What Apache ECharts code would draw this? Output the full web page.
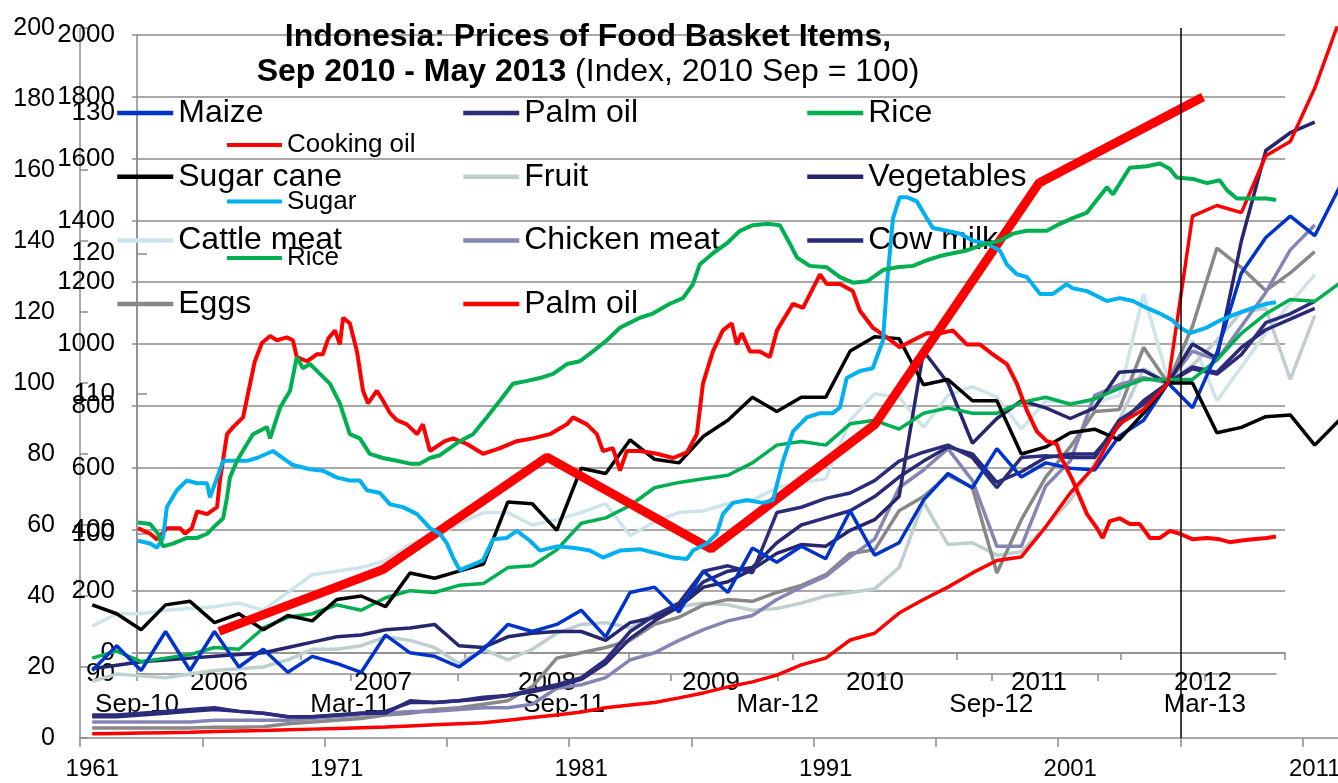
<!DOCTYPE html>
<html style="height: 100%">
<head>
    <meta charset="utf-8">
</head>
<body style="height: 100%; margin: 0; background: #fff">
    <div id="container" style="width: 1338px; height: 783px"></div>
    <script src="https://cdn.jsdelivr.net/npm/echarts@6/dist/echarts.min.js"></script>
    <script type="text/javascript">
        // production index layer, 1961-2012 (left axis 0-200)
        var years = [1961, 1962, 1963, 1964, 1965, 1966, 1967, 1968, 1969, 1970,
            1971, 1972, 1973, 1974, 1975, 1976, 1977, 1978, 1979, 1980,
            1981, 1982, 1983, 1984, 1985, 1986, 1987, 1988, 1989, 1990,
            1991, 1992, 1993, 1994, 1995, 1996, 1997, 1998, 1999, 2000,
            2001, 2002, 2003, 2004, 2005, 2006, 2007, 2008, 2009, 2010,
            2011, 2012];

        var maize = [19, 26, 19, 30, 19, 30, 20, 25, 18.5, 23,
            21, 18.5, 29, 24, 23, 20, 25, 32, 30, 32,
            36, 28.5, 41, 42.5, 35.5, 47, 41, 53.5, 49.5, 54,
            50.5, 64, 51.5, 55, 67, 74.5, 70.5, 81.5, 73.5, 77.5,
            76, 75.5, 85, 89.5, 100, 93, 108.5, 131, 141, 147,
            141.5, 155];
        var palmOilNavy = [6.5, 6.5, 7, 7.5, 8, 8.5, 7.5, 7, 6, 6,
            6.5, 7, 7, 10.5, 10, 10.5, 11.5, 12, 13.5, 15,
            17, 22, 30, 34.5, 38, 47, 48.5, 46.5, 63.5, 65,
            67.5, 69, 72.5, 78, 80.5, 82.5, 79, 70.5, 79, 79.5,
            79, 79, 89.5, 94, 100, 104, 102.5, 108, 117, 119.5,
            123, null];
        var rice = [22.5, 24.5, 21.5, 22.5, 23.5, 25.5, 25, 31, 34, 35,
            37.5, 36, 39.5, 41.5, 41, 43, 43.5, 48, 48.5, 53,
            60.5, 62, 65.5, 70.5, 72, 73, 74, 77.5, 82.5, 83.5,
            82.5, 88.5, 89.5, 87, 91.5, 93, 91.5, 91.5, 94.5, 96,
            94, 95.5, 98.5, 101, 101, 101, 106.5, 114, 119.5, 123.5,
            123, 128];
        var sugarCane = [37.5, 35, 30.5, 37.5, 38.5, 32.5, 35, 30.5, 34.5, 33,
            39, 40, 37, 46.5, 45, 47, 49, 66.5, 66, 58.5,
            76, 74.5, 84, 78.5, 77.5, 85, 89.5, 96, 92, 96,
            96, 109, 113, 112.5, 99.5, 101, 95, 95, 80, 82,
            86, 87, 84, 91.5, 100, 100, 86, 87.5, 90.5, 91,
            82.5, 89.5];
        var fruit = [16, 18, 17.5, 17, 18, 19, 19.5, 20, 22, 25,
            25, 26, 28.5, 27.5, 25.5, 21, 25, 22, 25, 29.5,
            32, 32.5, 31, 35, 37, 38, 37.5, 36, 36.5, 38,
            40, 41, 42, 48, 66.5, 54.5, 55, 51.5, 52.5, 59.5,
            67, 77.5, 89.5, 104, 100, 105, 112, 120, 121, 101,
            119, null];
        var vegetables = [19.5, 20.5, 21.5, 22, 22.5, 23, 23.5, 24, 25.5, 27,
            28.5, 29, 30.5, 31, 32, 26, 25.5, 28.5, 29.5, 30,
            30, 27.5, 32.5, 34, 37, 42.5, 44, 47.5, 52, 54.5,
            54, 58.5, 61.5, 68, 109, 100, 83, 90, 95, 93,
            90, 93, 103, 103.5, 100, 111, 107, 140, 165.5, 170.5,
            173.5, null];
        var cattleMeat = [31.5, 35, 35, 36, 36.5, 37, 38, 36, 41, 46,
            47, 48, 50, 54.5, 56.5, 60.5, 63.5, 63.5, 60, 61.5,
            63.5, 66, 57, 61, 63.5, 64, 66, 67, 70.5, 72,
            73, 89.5, 97, 96, 87.5, 96.5, 99, 96, 87, 95,
            94.5, 94.5, 96.5, 125, 101, 112, 95, 104.5, 114, 122.5,
            130.5, null];
        var chickenMeat = [4.5, 4.5, 4.5, 4.5, 4.5, 5, 5, 5, 5, 5.5,
            6, 6.5, 7, 7.5, 7.5, 8, 8.5, 8.5, 9.5, 14,
            15, 17, 22, 24, 27.5, 30.5, 33, 34.5, 39, 42.5,
            45.5, 51, 56, 70.5, 75.5, 81.5, 72.5, 54, 54, 71,
            78, 96.5, 99.5, 101.5, 100, 109, 106.5, 116, 125.5, 137.5,
            144.5, null];
        var cowMilk = [6, 6, 6.5, 7, 7.5, 8, 7.5, 7, 6, 6,
            6.5, 7, 7.5, 10, 10, 10.5, 11, 12, 13, 14.5,
            16.5, 21, 28, 33, 37, 44, 47, 48, 55, 60,
            62, 64, 68, 73.5, 78, 82, 80, 72, 75, 79,
            80, 80, 88, 95, 100, 104.5, 103, 110, 115, 118,
            121, null];
        var eggs = [2.8, 2.8, 2.8, 2.8, 2.8, 3, 3, 3.2, 4, 4.5,
            5, 5.5, 6.5, 7, 8, 8.5, 9.5, 10.5, 14.5, 22.5,
            24, 25.5, 27.5, 32, 34, 37.5, 39, 38.5, 41, 43,
            46, 52, 53, 64, 68, 74, 70.5, 46.5, 61.5, 73.5,
            82, 92, 92.5, 110, 100, 116, 138, 132.5, 126, 131,
            137, null];
        var palmOilRed = [1.2, 1.3, 1.4, 1.5, 1.6, 1.8, 2, 2.1, 2.3, 2.5,
            2.7, 2.9, 3.1, 3.4, 3.7, 4, 4.3, 5, 5.8, 6.5,
            7.3, 8.5, 9.3, 10, 11.3, 12.7, 14.4, 15.8, 17.7, 20.6,
            22.5, 27.6, 29.5, 35.2, 39, 42.5, 46.5, 50, 51, 59.5,
            69, 76.5, 88.5, 92.5, 100, 147, 150, 148, 164, 168,
            183, 202];

        // yearly layer 2006-2012 (axis 0-2000)
        var yearsB = ['2006', '2007', '2008', '2009', '2010', '2011', '2012'];
        var thickRed = [70, 270, 634, 337, 740, 1521, 1799];

        // price index Sep 2010 - May 2013, [months since Sep 2010, index]
        var monthLabels = {0: 'Sep-10', 6: 'Mar-11', 12: 'Sep-11', 18: 'Mar-12', 24: 'Sep-12', 30: 'Mar-13'};
        var cookingOil = [[0.03,100.4],[0.37,100],[0.56,99.6],[0.84,100.4],[1.21,100.4],[1.35,100],[1.54,100.4],[1.69,101.6],[1.97,101.4],[2.25,101.9],[2.33,103.8],[2.53,107.1],[2.7,107.6],[2.98,108.3],[3.12,110],[3.31,112.3],[3.51,113.6],[3.74,114.1],[3.93,113.8],[4.21,114],[4.38,113.8],[4.49,112.6],[4.78,112.3],[5.06,112.8],[5.22,112.8],[5.37,113.9],[5.56,114.5],[5.7,113.5],[5.79,115.4],[5.98,115],[6.18,113],[6.35,110.2],[6.49,109.3],[6.74,110.2],[6.91,109.5],[7.11,108.6],[7.3,108.1],[7.58,107.8],[7.87,107.1],[8.03,107.8],[8.23,105.9],[8.65,106.6],[8.88,106.8],[9.07,106.6],[9.27,106.4],[9.72,105.7],[10.2,106.1],[10.67,106.6],[11.12,106.8],[11.6,107.1],[12.08,107.8],[12.25,108.3],[12.64,107.8],[12.92,107.1],[13.09,105.9],[13.37,106.1],[13.57,104.5],[13.76,105.9],[14.13,105.9],[14.61,105.7],[15.06,105.4],[15.45,105.8],[15.73,107.1],[15.9,110.7],[16.18,113],[16.46,114.5],[16.71,115],[16.85,113.5],[16.99,114.3],[17.22,113],[17.5,113],[17.78,112.6],[17.98,114.5],[18.43,116.4],[18.71,116.1],[18.99,117.5],[19.19,118.5],[19.38,117.8],[19.75,117.8],[20.11,117.3],[20.31,115.9],[20.67,114.7],[21.07,114],[21.43,113.3],[21.8,113.8],[22.19,114.3],[22.56,114.3],[22.92,114.5],[23.31,113.5],[23.68,113.5],[24.04,112.8],[24.44,112.1],[24.72,110.7],[25,108.8],[25.28,107.3],[25.56,106.6],[25.84,106.4],[26.01,105.2],[26.29,103.8],[26.69,101.4],[26.97,100.4],[27.13,99.7],[27.33,100.9],[27.61,101.1],[27.89,100.7],[28.17,100.7],[28.46,99.7],[28.74,99.7],[29.02,100.2],[29.3,100],[29.66,99.6],[30.06,99.7],[30.42,99.6],[30.7,99.4],[30.98,99.5],[31.35,99.6],[31.74,99.7],[32,99.8]];
        var sugar = [[0.03,99.5],[0.37,99.3],[0.56,99],[0.73,99.7],[0.84,101.9],[1.12,103.1],[1.4,103.8],[1.69,103.6],[1.97,103.6],[2.05,102.6],[2.25,104],[2.42,105.2],[2.7,105.2],[3.09,105.2],[3.37,105.4],[3.82,105.9],[4.1,105.4],[4.38,104.9],[4.86,104.6],[5.22,104.5],[5.62,104],[5.98,103.8],[6.26,103.8],[6.46,103.1],[6.83,102.9],[7.11,102.1],[7.47,101.9],[7.87,101.4],[8.23,100.4],[8.51,100],[8.71,99.3],[8.88,98.3],[9.07,97.4],[9.72,98.1],[10,99.6],[10.39,99.7],[10.67,100.2],[11.04,99.5],[11.32,98.8],[11.8,99.1],[12.25,99],[12.72,98.8],[13.09,98.3],[13.57,98.8],[14.13,98.9],[14.61,98.6],[15.06,98.3],[15.45,98.2],[15.62,98.8],[16.01,99.3],[16.29,100],[16.46,101.4],[16.74,102.2],[17.13,102.4],[17.58,102.2],[17.87,102.4],[18.15,105.2],[18.43,107.3],[18.82,108.3],[19.19,108.6],[19.55,108.6],[19.75,109],[19.94,111.1],[20.31,111.6],[20.67,111.8],[20.96,113.8],[21.07,117.8],[21.24,122.5],[21.43,124],[21.63,124],[21.91,123.7],[22.19,122.5],[22.36,121.8],[22.75,121.6],[23.12,121.4],[23.48,120.9],[23.88,120.7],[24.24,120.2],[24.44,119.2],[24.72,118.5],[25,118.3],[25.37,117.1],[25.73,117.1],[26.12,117.8],[26.29,117.5],[26.69,117.3],[27.25,116.6],[27.61,116.8],[27.98,116.6],[28.37,116.1],[28.74,115.7],[29.1,115.2],[29.3,114.7],[29.58,114.3],[30.06,114.7],[30.42,115.2],[30.9,115.7],[31.35,116.1],[31.74,116.4],[32,116.5]];
        var ricePrice = [[0.03,100.8],[0.37,100.7],[0.59,100],[0.73,99.1],[1.01,99.3],[1.4,99.7],[1.69,99.7],[1.97,100],[2.25,100.7],[2.42,101.1],[2.53,102.6],[2.61,104],[2.81,105.2],[3.09,106.4],[3.26,107.1],[3.65,107.6],[3.74,106.8],[4.02,109],[4.3,110.2],[4.49,112.6],[4.66,111.8],[4.86,112.1],[5.14,111.4],[5.42,110.7],[5.7,109.3],[5.98,107.1],[6.26,106.8],[6.54,105.7],[6.91,105.4],[7.3,105.2],[7.67,105],[7.95,105],[8.23,105.4],[8.51,105.6],[8.79,106.1],[9.07,106.6],[9.44,107.1],[9.83,108.3],[10.2,109.5],[10.56,110.7],[10.96,110.9],[11.32,111.1],[11.69,111.4],[12.08,112.1],[12.44,112.3],[12.81,113],[13.2,113.8],[13.57,114.7],[14.13,115.4],[14.49,115.7],[14.97,116.4],[15.34,116.8],[15.62,117.8],[15.81,119.2],[16.18,120],[16.57,120.7],[16.94,121.6],[17.3,122],[17.72,122.1],[18.06,122],[18.34,120.7],[18.54,119.7],[18.9,119.1],[19.38,119],[19.75,118.3],[20.11,117.9],[20.51,118],[20.96,118.8],[21.35,119],[21.8,119.1],[22.19,119.5],[22.56,119.8],[22.92,120],[23.31,120.2],[23.88,120.7],[24.24,120.9],[24.61,121.4],[25,121.6],[25.56,121.6],[25.93,122.1],[26.29,122.5],[26.69,122.9],[27.25,124.7],[27.42,124.2],[27.89,126.1],[28.37,126.2],[28.74,126.4],[29.02,126],[29.21,125.4],[29.66,125.3],[30.06,125],[30.42,125.2],[30.62,124.5],[30.9,123.9],[31.35,123.9],[31.74,123.9],[32,123.8]];

        var FONT = "'Liberation Sans', Arial, sans-serif";
        var GRAY = '#8c8c8c';

        var dom = document.getElementById('container');
        var myChart = echarts.init(dom, null, {renderer: 'canvas'});

        function pairs(vals) {
            return years.map(function (y, i) { return [y, vals[i]]; });
        }
        function prodLine(name, vals, color, z) {
            return {
                name: name, type: 'line', xAxisIndex: 0, yAxisIndex: 0,
                data: pairs(vals), symbol: 'none', z: z || 2,
                lineStyle: {color: color, width: 3.5}, itemStyle: {color: color}
            };
        }
        function priceLine(name, vals, color) {
            return {
                name: name, type: 'line', xAxisIndex: 3, yAxisIndex: 2,
                data: vals, symbol: 'none', z: 4,
                lineStyle: {color: color, width: 4}, itemStyle: {color: color}
            };
        }
        function legendCol(left, top, names, size, gap, width) {
            return {
                orient: 'vertical', left: left, top: top, padding: 0,
                itemWidth: width, itemHeight: size, itemGap: gap,
                selectedMode: false, data: names,
                itemStyle: {opacity: 0},
                lineStyle: {width: size > 30 ? 4.5 : 4},
                formatter: function (n) { return n.replace(/ \(.*\)$/, ''); },
                textStyle: {fontSize: size, fontFamily: FONT, color: '#000'}
            };
        }

        var series = [
            prodLine('Cattle meat', cattleMeat, '#cde5e8'),
            prodLine('Fruit', fruit, '#bfcfcf'),
            prodLine('Eggs', eggs, '#888888'),
            prodLine('Chicken meat', chickenMeat, '#8585b5'),
            prodLine('Cow milk', cowMilk, '#2a2a78'),
            prodLine('Vegetables', vegetables, '#26266e'),
            prodLine('Palm oil', palmOilNavy, '#2b2c7c'),
            prodLine('Rice', rice, '#00b050'),
            prodLine('Maize', maize, '#0033cc'),
            prodLine('Sugar cane', sugarCane, '#000000'),
            prodLine('Palm oil (red)', palmOilRed, '#ff0000')
        ];
        series[series.length - 1].markLine = {
            silent: true, symbol: ['none', 'none'], label: {show: false},
            lineStyle: {color: '#000', width: 1.5, type: 'solid'},
            data: [{xAxis: 2005.5}]
        };
        series.push({
            name: 'Palm oil (thick)', type: 'line', xAxisIndex: 2, yAxisIndex: 1,
            data: thickRed, symbol: 'none', z: 3,
            lineStyle: {color: '#ff0000', width: 9}, itemStyle: {color: '#ff0000'}
        });
        series.push(priceLine('Cooking oil', cookingOil, '#ff0000'));
        series.push(priceLine('Sugar', sugar, '#00b0f0'));
        series.push(priceLine('Rice (price)', ricePrice, '#00b050'));

        var plain = function (v) { return String(v); };

        var option = {
            animation: false,
            backgroundColor: '#ffffff',
            textStyle: {fontFamily: FONT},
            title: {
                left: 588, top: 20, padding: 0, textAlign: 'center',
                text: '{b|Indonesia: Prices of Food Basket Items,}\n{b|Sep 2010 - May 2013}{n| (Index, 2010 Sep = 100)}',
                textStyle: {
                    rich: {
                        b: {fontSize: 32, fontWeight: 'bold', fontFamily: FONT, color: '#000', lineHeight: 35},
                        n: {fontSize: 32, fontWeight: 'normal', fontFamily: FONT, color: '#000', lineHeight: 35}
                    }
                }
            },
            legend: [
                legendCol(115, 97, ['Maize', 'Sugar cane', 'Cattle meat', 'Eggs'], 32, 31.7, 56),
                legendCol(461, 97, ['Palm oil', 'Fruit', 'Chicken meat', 'Palm oil (red)'], 32, 31.7, 56),
                legendCol(805, 97, ['Rice', 'Vegetables', 'Cow milk'], 32, 31.7, 56),
                legendCol(225, 132, ['Cooking oil', 'Sugar', 'Rice (price)'], 26, 30.5, 55)
            ],
            grid: [
                {left: 80, top: 28, width: 1271.4, height: 710, containLabel: false, outerBoundsMode: 'none'},
                {left: 137, top: 35, width: 1148, height: 618, containLabel: false, outerBoundsMode: 'none'},
                {left: 137, top: 113, width: 1139, height: 561, containLabel: false, outerBoundsMode: 'none'}
            ],
            xAxis: [
                {
                    gridIndex: 0, type: 'value', position: 'bottom', min: 1960.5, max: 2012.5, interval: 5,
                    axisLine: {show: true, lineStyle: {color: GRAY, width: 1.5}},
                    axisTick: {show: true, length: 9, lineStyle: {color: GRAY, width: 1.5}},
                    axisLabel: {show: false}, splitLine: {show: false}
                },
                {
                    gridIndex: 0, type: 'category', position: 'bottom', data: years, boundaryGap: true,
                    axisLine: {show: false}, axisTick: {show: false},
                    axisLabel: {interval: 9, fontSize: 24, color: '#000', fontFamily: FONT, margin: 19},
                    splitLine: {show: false}
                },
                {
                    gridIndex: 1, type: 'category', position: 'bottom', data: yearsB, boundaryGap: true,
                    axisLine: {show: true, lineStyle: {color: GRAY, width: 1.5}},
                    axisTick: {show: true, length: 7, lineStyle: {color: GRAY, width: 1.5}},
                    axisLabel: {fontSize: 26, color: '#000', fontFamily: FONT, margin: 17},
                    splitLine: {show: false}
                },
                {
                    gridIndex: 2, type: 'value', position: 'bottom', min: 0, max: 32, interval: 3,
                    axisLine: {show: true, onZero: false, lineStyle: {color: GRAY, width: 1.5}},
                    axisTick: {show: true, length: 7, lineStyle: {color: GRAY, width: 1.5}},
                    axisLabel: {
                        fontSize: 26, color: '#000', fontFamily: FONT, margin: 18,
                        showMaxLabel: false,
                        formatter: function (v) { return monthLabels[v] || ''; }
                    },
                    splitLine: {show: false}
                }
            ],
            yAxis: [
                {
                    gridIndex: 0, type: 'value', min: 0, max: 200, interval: 20,
                    axisLine: {show: true, lineStyle: {color: GRAY, width: 1.5}},
                    axisTick: {show: true, inside: true, length: 8, lineStyle: {color: GRAY, width: 1.5}},
                    axisLabel: {fontSize: 25, color: '#000', fontFamily: FONT, margin: 25, formatter: plain},
                    splitLine: {show: false}
                },
                {
                    gridIndex: 1, type: 'value', min: 0, max: 2000, interval: 200,
                    axisLine: {show: true, lineStyle: {color: GRAY, width: 1.5}},
                    axisTick: {show: true, length: 5, lineStyle: {color: GRAY, width: 1.5}},
                    axisLabel: {fontSize: 26, color: '#000', fontFamily: FONT, margin: 22, formatter: plain},
                    splitLine: {show: true, lineStyle: {color: GRAY, width: 1.5}}
                },
                {
                    gridIndex: 2, type: 'value', min: 90, max: 130, interval: 10,
                    axisLine: {show: true, onZero: false, lineStyle: {color: GRAY, width: 1.5}},
                    axisTick: {show: true, inside: true, length: 10, lineStyle: {color: GRAY, width: 1.5}},
                    axisLabel: {fontSize: 26, color: '#000', fontFamily: FONT, margin: 22, formatter: plain},
                    splitLine: {show: false}
                }
            ],
            series: series
        };

        if (option && typeof option === 'object') {
            myChart.setOption(option);
        }
    </script>
</body>
</html>
